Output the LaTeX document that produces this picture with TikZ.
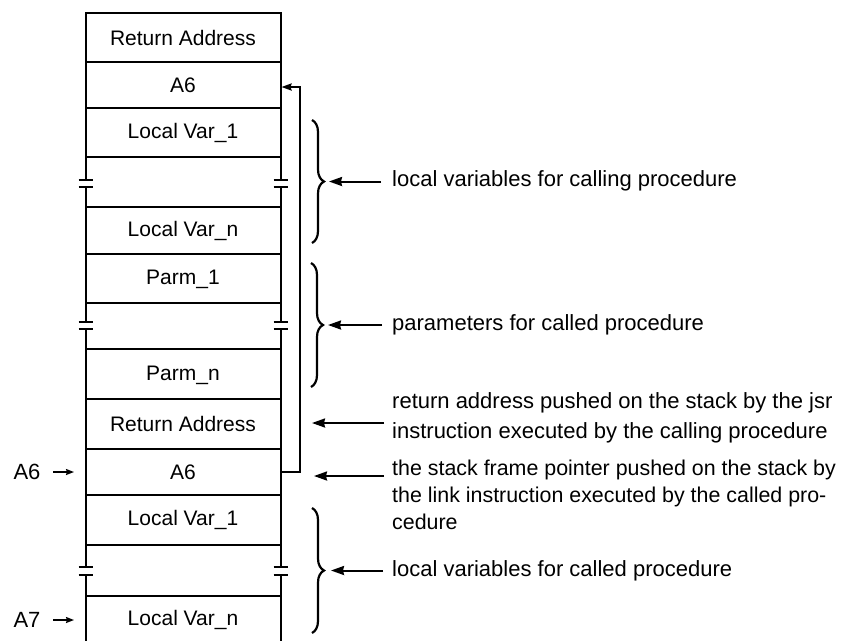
\documentclass[tikz,border=0pt]{standalone}
\usepackage{fontspec}
\setmainfont{Liberation Sans}
\usetikzlibrary{arrows.meta,decorations.pathreplacing}
\begin{document}
\begin{tikzpicture}[x=1pt,y=-1pt,
  line/.style={line width=2pt},
  cell/.style={font=\fontsize{21}{25}\selectfont, inner sep=0pt},
  note/.style={font=\fontsize{22}{27}\selectfont, anchor=west, align=left, inner sep=0pt},
  lbl/.style={font=\fontsize{22}{26}\selectfont, inner sep=0pt},
  ptr/.style={line width=2pt, -{Stealth[length=13pt,width=9pt,inset=1pt]}},
  smallptr/.style={line width=1.5pt, -{Stealth[length=8pt,width=6pt,inset=1pt]}},
  linkptr/.style={line width=2pt, -{Stealth[length=10pt,width=7pt,inset=1pt]}},
  brc/.style={line width=2.2pt, decorate, decoration={brace, amplitude=12pt}},
]
\useasboundingbox (0,0) rectangle (844,641);

% horizontal separators
\foreach \y in {13,62,108,157,207,254,303,349,399,449,495,545,596}
  \draw[line, line cap=rect] (85.5,\y) -- (280.5,\y);

% vertical walls with breaks
\foreach \x in {85.5,280.5}{
  \draw[line] (\x,13) -- (\x,180);
  \draw[line] (\x,187) -- (\x,322);
  \draw[line] (\x,329) -- (\x,567);
  \draw[line] (\x,575) -- (\x,641);
  \foreach \t in {180,187,322,329,567,575}
    \draw[line width=1.6pt] ({\x-7},\t) -- ({\x+7},\t);
}

% cell texts
\node[cell] (ra1) at (183,38) {Return Address};
\node[cell] (a6t) at (183,85) {A6};
\node[cell] (lv1) at (183,133) {Local Var\_1};
\node[cell] (lvn) at (183,231) {Local Var\_n};
\node[cell] (p1)  at (183,279) {Parm\_1};
\node[cell] (pn)  at (183,375) {Parm\_n};
\node[cell] (ra2) at (183,424) {Return Address};
\node[cell] (a6b) at (183,472) {A6};
\node[cell] (cv1) at (183,520) {Local Var\_1};
\node[cell] (cvn) at (183,620) {Local Var\_n};

% link chain
\coordinate (topin) at (281.5,87);
\coordinate (botout) at (280.5,472);
\coordinate (c1) at (300,472);
\coordinate (c2) at (300,87);
\draw[linkptr] (botout) -- (c1) -- (c2) -- (topin);

% left labels
\node[lbl] (la6) at (27,472) {A6};
\node[lbl] (la7) at (27,620) {A7};
\coordinate (la6e) at (74,472);
\coordinate (la7e) at (74,620);
\draw[smallptr] (53,472) -- (la6e);
\draw[smallptr] (53,620) -- (la7e);

% braces
\draw[brc] (312,120) -- (312,243) coordinate[midway] (b1m);
\draw[brc] (311,263) -- (311,387) coordinate[midway] (b2m);
\draw[brc] (312,508) -- (312,633) coordinate[midway] (b3m);
\coordinate (b1) at (329,181.5);
\coordinate (b2) at (328,325);
\coordinate (b3) at (331,570.5);
\coordinate (rap) at (312,423);
\coordinate (sfp) at (314,476);

% notes
\node[note] (n1) at (392,181) {local variables for calling procedure};
\node[note] (n2) at (392,325) {parameters for called procedure};
\node[note, font=\fontsize{22}{30}\selectfont] (n3) at (392,418) {return address pushed on the stack by the jsr\\instruction executed by the calling procedure};
\node[note, font=\fontsize{21.4}{27}\selectfont] (n4) at (392,495) {the stack frame pointer pushed on the stack by\\the link instruction executed by the called pro-\\cedure};
\node[note] (n5) at (392,571) {local variables for called procedure};

\draw[ptr] (381,181.5) -- (b1);
\draw[ptr] (382,325) -- (b2);
\draw[ptr] (384,423) -- (rap);
\draw[ptr] (384,476) -- (sfp);
\draw[ptr] (383,570.5) -- (b3);
\end{tikzpicture}
\end{document}
